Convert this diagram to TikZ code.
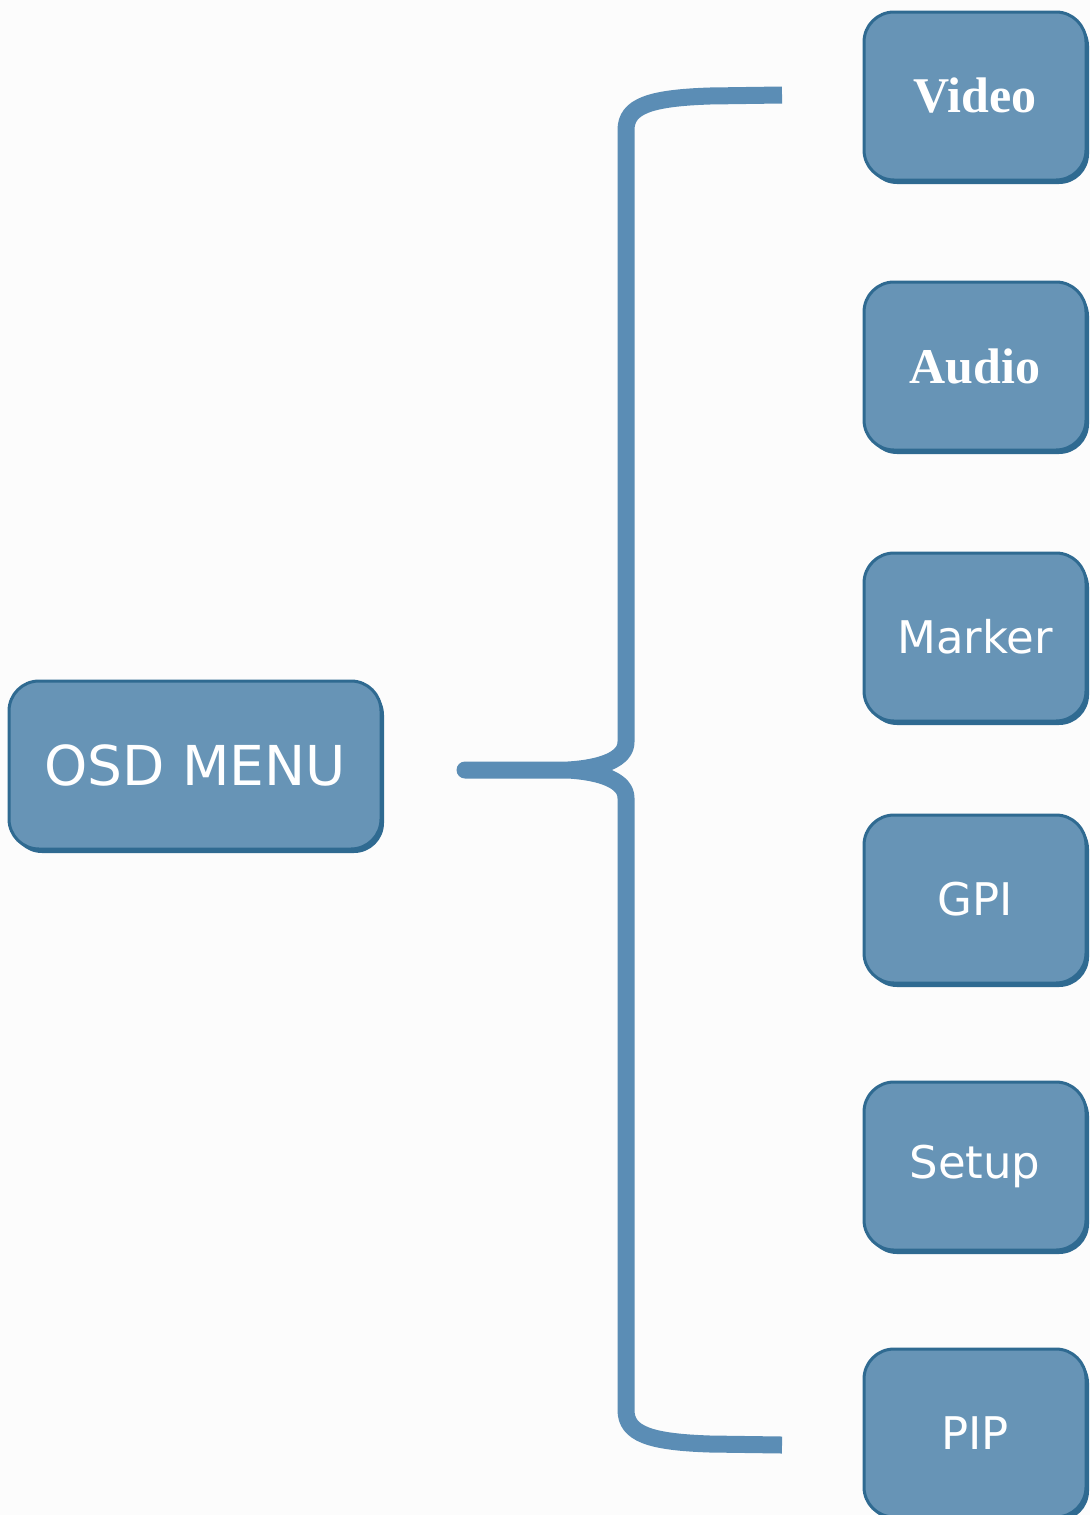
\documentclass[tikz,border=0pt]{standalone}
\usepackage{fontspec}
\setmainfont{DejaVu Sans}
\newfontfamily\serifbf{Liberation Serif}
\usetikzlibrary{shadows}
\definecolor{boxfill}{HTML}{6794B6}
\definecolor{boxdark}{HTML}{2F6A91}
\definecolor{bracecol}{HTML}{5B8DB5}
\definecolor{bgcol}{HTML}{FCFCFC}
\begin{document}
\begin{tikzpicture}[x=0.5pt,y=-0.5pt,
  menubox/.style={draw=boxdark, line width=1.5pt, fill=boxfill, rounded corners=15pt,
    text=white, inner sep=0pt,
    drop shadow={shadow xshift=1.5pt, shadow yshift=-2pt, fill=boxdark, opacity=1}},
  subbox/.style={menubox, minimum width=111pt, minimum height=84pt,
    font=\fontsize{22.5}{27}\selectfont},
  serifsub/.style={subbox, font=\fontsize{25}{30}\selectfont\serifbf\bfseries},
  bracestyle/.style={draw=bracecol, line width=8.5pt, line cap=butt, line join=round}
]
\path[fill=bgcol, use as bounding box] (0,0) rectangle (1090,1515);
\clip (0,0) rectangle (1090,1515);

\node[menubox, minimum width=186pt, minimum height=84pt,
      font=\fontsize{27.5}{33}\selectfont] (osd) at (195,765) {OSD MENU};

\node[serifsub] (video)  at (975,96)   {Video};
\node[serifsub] (audio)  at (975,366)  {Audio};
\node[subbox]   (marker) at (975,637)  {Marker};
\node[subbox]   (gpi)    at (975,899)  {GPI};
\node[subbox]   (setup)  at (975,1166) {Setup};
\node[subbox]   (pip)    at (975,1433) {PIP};

\coordinate (btop) at (782,95);
\coordinate (btip) at (465,770);
\coordinate (bbot) at (782,1445);

\draw[bracestyle] (btop) -- (710,96)
  .. controls (650,98) and (626,106) .. (626,130)
  -- (626,742)
  .. controls (626,759) and (602,768) .. (568,770)
  -- (btip) -- (568,770)
  .. controls (602,772) and (626,781) .. (626,798)
  -- (626,1410)
  .. controls (626,1434) and (650,1442) .. (710,1444)
  -- (bbot);
\end{tikzpicture}
\end{document}
